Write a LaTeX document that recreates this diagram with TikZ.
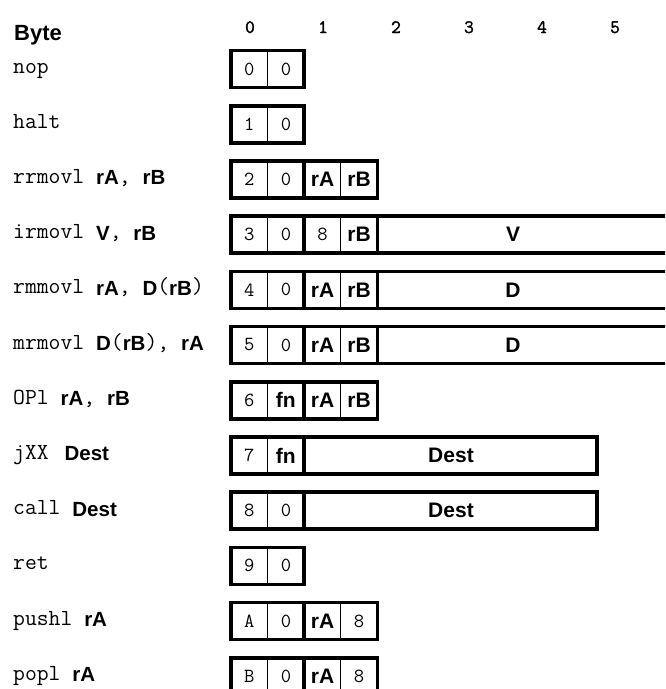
\documentclass[tikz,border=0pt]{standalone}
\usepackage{fontspec}
\setmainfont{Liberation Sans}
\setsansfont{Liberation Sans}
\newfontfamily\hdrmono[FakeBold=1.6]{Latin Modern Mono}
\newcommand\mnf{\fontsize{23}{23}\ttfamily}
\newcommand\opf{\fontsize{20.5}{20.5}\sffamily\bfseries}
\newcommand\mn[1]{\raisebox{1.5pt}{\mnf #1}}
\newcommand\op[1]{{\opf #1}}
\newcommand\dg[1]{{\fontsize{20}{20}\ttfamily #1}}
\newcommand\sq[1]{{\fontsize{21}{21}\sffamily\bfseries #1}}
\def\Lx{231}
\def\Wb{73.2}
\def\Hh{18.5}
\tikzset{
  outer/.style={line width=3.6pt, line join=miter},
  thinl/.style={line width=0.9pt},
  cell/.style={inner sep=0pt, anchor=center},
  lbl/.style={inner sep=0pt, anchor=base west},
  hdr/.style={inner sep=0pt, anchor=base, font=\fontsize{19}{19}\hdrmono}
}
% byte with two nibbles: name, y, byte index, left, right
\newcommand\byteb[5]{%
  \draw[thinl] ({\Lx+\Wb*#3+\Wb/2}, #2-\Hh) -- ({\Lx+\Wb*#3+\Wb/2}, #2+\Hh);
  \draw[outer] ({\Lx+\Wb*#3}, #2-\Hh) rectangle ({\Lx+\Wb*(#3+1)}, #2+\Hh);
  \node[cell] (#1l) at ({\Lx+\Wb*#3+\Wb/4}, #2) {#4};
  \node[cell] (#1r) at ({\Lx+\Wb*#3+3*\Wb/4}, #2) {#5};
}
% field: name, y, start byte, end x, text x, text
\newcommand\field[6]{%
  \draw[outer] ({\Lx+\Wb*#3}, #2-\Hh) rectangle (#4, #2+\Hh);
  \node[cell] (#1) at (#5, #2) {#6};
}
\newcommand\rowlabel[3]{\node[lbl] (#1) at (13, #2+5.5) {#3};}
\begin{document}
\begin{tikzpicture}[x=1pt, y=-1pt]
\useasboundingbox (0,0) rectangle (665,689);
\clip (0,0) rectangle (665,689);
% header
\node[inner sep=0pt, anchor=base west, font=\fontsize{22}{22}\sffamily\bfseries] (byte) at (14,40) {Byte};
\node[hdr] (h0) at (250,33) {0};
\node[hdr] (h1) at (323,33) {1};
\node[hdr] (h2) at (396,33) {2};
\node[hdr] (h3) at (469,33) {3};
\node[hdr] (h4) at (542,33) {4};
\node[hdr] (h5) at (615,33) {5};
% rows
\def\ra{69}\def\rb{124.2}\def\rc{179.4}\def\rd{234.6}\def\re{289.8}\def\rf{345}
\def\rg{400.2}\def\rh{455.4}\def\ri{510.6}\def\rj{565.8}\def\rk{621}\def\rl{676.2}
% nop
\rowlabel{lnop}{\ra}{\mn{nop}}
\byteb{nop0}{\ra}{0}{\dg{0}}{\dg{0}}
% halt
\rowlabel{lhalt}{\rb}{\mn{halt}}
\byteb{halt0}{\rb}{0}{\dg{1}}{\dg{0}}
% rrmovl
\rowlabel{lrr}{\rc}{\mn{rrmovl }\op{rA}\mn{, }\op{rB}}
\byteb{rr0}{\rc}{0}{\dg{2}}{\dg{0}}
\byteb{rr1}{\rc}{1}{\sq{rA}}{\sq{rB}}
% irmovl
\rowlabel{lir}{\rd}{\mn{irmovl }\op{V}\mn{, }\op{rB}}
\byteb{ir0}{\rd}{0}{\dg{3}}{\dg{0}}
\byteb{ir1}{\rd}{1}{\dg{8}}{\sq{rB}}
\field{irV}{\rd}{2}{720}{513}{\sq{V}}
% rmmovl
\rowlabel{lrm}{\re}{\mn{rmmovl }\op{rA}\mn{, }\op{D}\mn{(}\op{rB}\mn{)}}
\byteb{rm0}{\re}{0}{\dg{4}}{\dg{0}}
\byteb{rm1}{\re}{1}{\sq{rA}}{\sq{rB}}
\field{rmD}{\re}{2}{720}{513}{\sq{D}}
% mrmovl
\rowlabel{lmr}{\rf}{\mn{mrmovl }\op{D}\mn{(}\op{rB}\mn{), }\op{rA}}
\byteb{mr0}{\rf}{0}{\dg{5}}{\dg{0}}
\byteb{mr1}{\rf}{1}{\sq{rA}}{\sq{rB}}
\field{mrD}{\rf}{2}{720}{513}{\sq{D}}
% OPl
\rowlabel{lop}{\rg}{\mn{OPl }\op{rA}\mn{, }\op{rB}}
\byteb{op0}{\rg}{0}{\dg{6}}{\sq{fn}}
\byteb{op1}{\rg}{1}{\sq{rA}}{\sq{rB}}
% jXX
\rowlabel{ljx}{\rh}{\mn{jXX }\hspace{4pt}\op{Dest}}
\byteb{jx0}{\rh}{0}{\dg{7}}{\sq{fn}}
\field{jxD}{\rh}{1}{{\Lx+\Wb*5}}{451}{\sq{Dest}}
% call
\rowlabel{lcall}{\ri}{\mn{call }\op{Dest}}
\byteb{call0}{\ri}{0}{\dg{8}}{\dg{0}}
\field{callD}{\ri}{1}{{\Lx+\Wb*5}}{451}{\sq{Dest}}
% ret
\rowlabel{lret}{\rj}{\mn{ret}}
\byteb{ret0}{\rj}{0}{\dg{9}}{\dg{0}}
% pushl
\rowlabel{lpush}{\rk}{\mn{pushl }\op{rA}}
\byteb{push0}{\rk}{0}{\dg{A}}{\dg{0}}
\byteb{push1}{\rk}{1}{\sq{rA}}{\dg{8}}
% popl
\rowlabel{lpop}{\rl}{\mn{popl }\op{rA}}
\byteb{pop0}{\rl}{0}{\dg{B}}{\dg{0}}
\byteb{pop1}{\rl}{1}{\sq{rA}}{\dg{8}}
\end{tikzpicture}
\end{document}
